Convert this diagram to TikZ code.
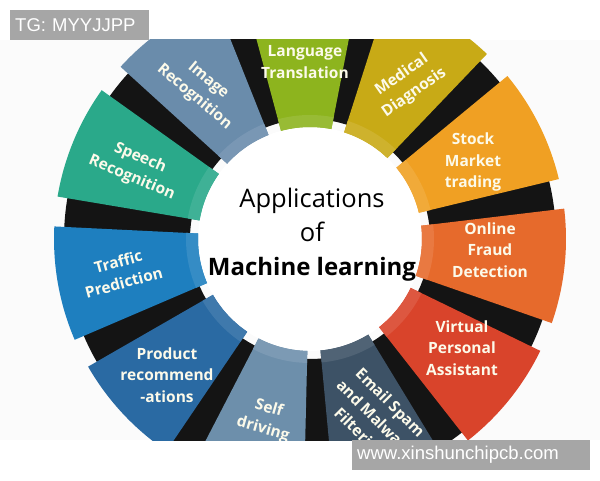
\documentclass[tikz,border=0pt]{standalone}
\usepackage{fontspec}
\setmainfont{Open Sans}
\newfontfamily\wmfont{Liberation Sans}
\definecolor{seg0}{RGB}{141,180,30}
\definecolor{seg1}{RGB}{200,170,22}
\definecolor{seg2}{RGB}{240,160,35}
\definecolor{seg3}{RGB}{230,106,44}
\definecolor{seg4}{RGB}{217,68,43}
\definecolor{seg5}{RGB}{61,82,102}
\definecolor{seg6}{RGB}{109,143,171}
\definecolor{seg7}{RGB}{42,106,163}
\definecolor{seg8}{RGB}{30,127,191}
\definecolor{seg9}{RGB}{42,169,138}
\definecolor{seg10}{RGB}{106,140,171}
\definecolor{labelink}{RGB}{252,250,234}
\definecolor{wmgray}{RGB}{166,166,166}
\begin{document}
\begin{tikzpicture}[x=1pt,y=1pt,
		seglabel/.style={text=labelink,font=\fontsize{15.5}{21.5}\selectfont\bfseries,align=center,inner sep=0pt},
		wmark/.style={fill=wmgray,text=white,font=\wmfont\fontsize{18.5}{20}\selectfont,anchor=north west,align=left,inner ysep=0pt,inner xsep=5pt,minimum height=30pt}]
	\useasboundingbox (0,0) rectangle (600,480);
	\fill[gray!3] (0,40) rectangle (600,440);
	\begin{scope}
		\clip (0,40) rectangle (600,440);
		\begin{scope}[shift={(310,241)}]
			\fill[black!92,even odd rule] (0,0) circle[radius=246pt] (0,0) circle[radius=120pt];
			\fill[white] (0,0) circle[radius=112pt];
			\foreach \k in {0,...,10}{
				\pgfmathsetmacro\a{92-32.727*\k}
				\fill[seg\k] ({\a-13}:112pt) arc[start angle=\a-13,end angle=\a+13,radius=112pt] -- ({\a+13}:256pt) arc[start angle=\a+13,end angle=\a-13,radius=256pt] -- cycle;
				\fill[seg\k!90!white] ({\a-13}:112pt) arc[start angle=\a-13,end angle=\a+13,radius=112pt] -- ({\a+13}:124pt) arc[start angle=\a+13,end angle=\a-13,radius=124pt] -- cycle;
			};
		\end{scope}
		\foreach \k/\x/\y/\rot/\lbl in {0/305/418/0/{Language\\Translation},1/408/396/35/{Medical\\Diagnosis},2/473/318/0/{Stock\\Market\\trading},3/490/230/0/{Online\\Fraud\\Detection},4/462/132/0/{Virtual\\Personal\\Assistant},5/374/61/-45/{Email Spam\\and Malware\\Filtering},6/266/61/-16/{Self\\driving},7/167/105/0/{Product\\recommend\\-ations},8/121/208/15/{Traffic\\Prediction},9/136/312/-23/{Speech\\Recognition},10/201/391/-40/{Image\\Recognition}}{
			\node[seglabel,rotate=\rot,name=L\k] at (\x,\y) {\lbl};
		};
		\node[name=hub,align=center,font=\fontsize{25.5}{34}\selectfont] at (312,245) {Applications\\of\\{\fontsize{24}{34}\selectfont\bfseries Machine learning}};
	\end{scope}
	\node[wmark,name=tg,text width=129pt] at (10,470) {TG: MYYJJPP};
	\node[wmark,name=site,text width=228pt] at (352,40) {www.xinshunchipcb.com};
\end{tikzpicture}
\end{document}
